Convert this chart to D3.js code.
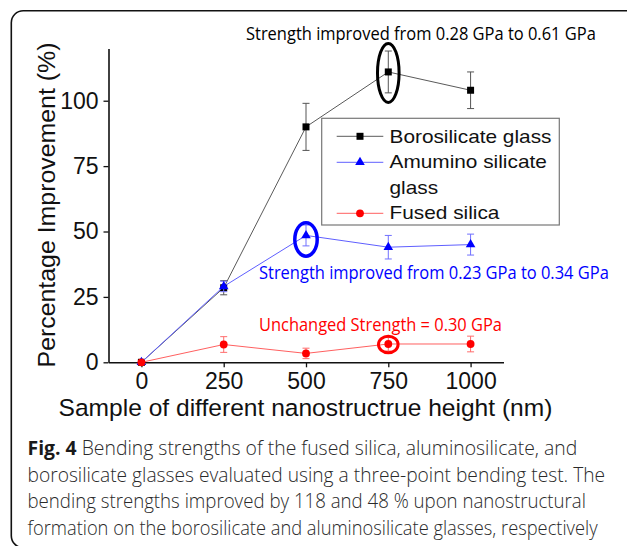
<!DOCTYPE html>
<html>
<head>
<meta charset="utf-8">
<script src="https://cdn.jsdelivr.net/npm/d3@7"></script>
<style>
  html, body { margin: 0; padding: 0; background: #fff; }
  svg { display: block; }
</style>
</head>
<body>
<svg id="chart" width="627" height="546"></svg>
<script>
// Nanostructure heights (nm) on the x axis
const heights = [0, 250, 500, 750, 1000];

// Percentage improvement of bending strength, with error bars
const boroValues  = [0, 28.5, 90, 111, 104];
const boroErrors  = [0, 2.7, 9, 8, 7];
const aluValues   = [0, 29, 48.5, 44, 45];
const aluErrors   = [0, 2, 4, 4.5, 4];
const fusedValues = [0, 6.8, 3.4, 7, 7];
const fusedErrors = [0, 3, 2, 2.7, 3];

const xTicks = [0, 250, 500, 750, 1000];
const yTicks = [0, 25, 50, 75, 100];

const legendLabels = [["Borosilicate glass"], ["Amumino silicate", "glass"], ["Fused silica"]];

const notes = [
  "Strength improved from 0.28 GPa to 0.61 GPa",
  "Strength improved from 0.23 GPa to 0.34 GPa",
  "Unchanged Strength = 0.30 GPa"
];

const captionLines = [
  ["Fig. 4", " Bending strengths of the fused silica, aluminosilicate, and"],
  ["", "borosilicate glasses evaluated using a three-point bending test. The"],
  ["", "bending strengths improved by 118 and 48 % upon nanostructural"],
  ["", "formation on the borosilicate and aluminosilicate glasses, respectively"]
];

const svg = d3.select("#chart");
const AXIS_FONT = "'Liberation Sans', Arial, sans-serif";
const NOTE_FONT = "'Open Sans', 'Noto Sans', sans-serif";

// Stretch or squeeze a text horizontally so its box spans a given width
function fitWidth(sel, target) {
  const node = sel.node();
  const bb = node.getBBox();
  const anchor = sel.attr("text-anchor") || "start";
  const ax = anchor === "middle" ? bb.x + bb.width / 2 : anchor === "end" ? bb.x + bb.width : bb.x;
  const k = target / bb.width;
  const prev = sel.attr("transform") || "";
  sel.attr("transform", `${prev} translate(${ax},0) scale(${k},1) translate(${-ax},0)`);
  return k;
}

// Rounded frame around figure and caption
svg.append("rect")
  .attr("x", 11.3).attr("y", 10.7)
  .attr("width", 720).attr("height", 537)
  .attr("rx", 12).attr("ry", 12)
  .attr("fill", "#fff").attr("stroke", "#111").attr("stroke-width", 1.6);

const x = d3.scaleLinear().domain([-100, 1100]).range([108.5, 503.5]);
const y = d3.scaleLinear().domain([0, 120]).range([362.3, 48.4]);

// Axes
const xAxis = svg.append("g")
  .attr("transform", `translate(0,${y(0)})`)
  .call(d3.axisBottom(x).tickValues(xTicks).tickFormat(d3.format("d"))
    .tickSize(5).tickSizeOuter(0).tickPadding(5.5));
const yAxis = svg.append("g")
  .attr("transform", `translate(${x(-100)},0)`)
  .call(d3.axisLeft(y).tickValues(yTicks).tickFormat(d3.format("d"))
    .tickSize(5).tickSizeOuter(0).tickPadding(5));

[xAxis, yAxis].forEach(g => {
  g.select(".domain").attr("stroke", "#111").attr("stroke-width", 1.6);
  g.selectAll(".tick line").attr("stroke", "#111").attr("stroke-width", 1.3);
  g.selectAll(".tick text")
    .attr("fill", "#111")
    .style("font-family", AXIS_FONT)
    .style("font-size", "23px");
});

// Axis titles
const yTitleG = svg.append("g").attr("transform", `translate(55,205) rotate(-90)`);
const yTitle = yTitleG.append("text")
  .attr("text-anchor", "middle")
  .attr("fill", "#111")
  .style("font-family", AXIS_FONT)
  .style("font-size", "24px")
  .text("Percentage Improvement (%)");
fitWidth(yTitle, 325);

const xTitle = svg.append("text")
  .attr("x", 305.5).attr("y", 416.5)
  .attr("text-anchor", "middle")
  .attr("fill", "#111")
  .style("font-family", AXIS_FONT)
  .style("font-size", "23.3px")
  .text("Sample of different nanostructrue height (nm)");
fitWidth(xTitle, 494);

// Series definitions
const series = [
  { values: boroValues, errors: boroErrors, line: "#5a5a5a", err: "#555", fill: "#000",
    symbol: d3.symbolSquare, size: 49 },
  { values: aluValues, errors: aluErrors, line: "#5f5fff", err: "#7070ff", fill: "#0000ff",
    symbol: d3.symbolTriangle, size: 40 },
  { values: fusedValues, errors: fusedErrors, line: "#ff6060", err: "#ff6c6c", fill: "#ff0000",
    symbol: d3.symbolCircle, size: 48 }
];

const lineGen = d3.line().x(d => x(d[0])).y(d => y(d[1]));

series.forEach(s => {
  const pts = heights.map((h, i) => [h, s.values[i], s.errors[i]]);
  const g = svg.append("g");
  g.append("path")
    .attr("d", lineGen(pts))
    .attr("fill", "none")
    .attr("stroke", s.line)
    .attr("stroke-width", 1);
  const eb = g.selectAll(".eb").data(pts.filter(p => p[2] > 0)).join("g");
  eb.append("line")
    .attr("x1", d => x(d[0])).attr("x2", d => x(d[0]))
    .attr("y1", d => y(d[1] - d[2])).attr("y2", d => y(d[1] + d[2]))
    .attr("stroke", s.err).attr("stroke-width", 1);
  [-1, 1].forEach(sgn => {
    eb.append("line")
      .attr("x1", d => x(d[0]) - 3.5).attr("x2", d => x(d[0]) + 3.5)
      .attr("y1", d => y(d[1] + sgn * d[2])).attr("y2", d => y(d[1] + sgn * d[2]))
      .attr("stroke", s.err).attr("stroke-width", 1);
  });
  g.selectAll(".mk").data(pts).join("path")
    .attr("transform", d => `translate(${x(d[0])},${y(d[1])})`)
    .attr("d", d3.symbol().type(s.symbol).size(s.size)())
    .attr("fill", s.fill);
});

// Highlight rings around the selected samples
svg.append("ellipse")
  .attr("cx", x(750)).attr("cy", y(boroValues[3]) + 1)
  .attr("rx", 10.8).attr("ry", 29.5)
  .attr("fill", "none").attr("stroke", "#000").attr("stroke-width", 3);
svg.append("ellipse")
  .attr("cx", x(500)).attr("cy", y(aluValues[2]) + 4)
  .attr("rx", 11.2).attr("ry", 16.7)
  .attr("fill", "none").attr("stroke", "#0000ff").attr("stroke-width", 3.5);
svg.append("ellipse")
  .attr("cx", x(750)).attr("cy", y(fusedValues[3]) + 0.5)
  .attr("rx", 9.8).attr("ry", 8.2)
  .attr("fill", "none").attr("stroke", "#ff0000").attr("stroke-width", 3);

// Annotations
const noteSpecs = [
  { text: notes[0], x: 246, y: 40, color: "#000", w: 350 },
  { text: notes[1], x: 259, y: 279, color: "#0000ff", w: 350 },
  { text: notes[2], x: 259, y: 330.7, color: "#ff0000", w: 243 }
];
noteSpecs.forEach(n => {
  const t = svg.append("text")
    .attr("x", n.x).attr("y", n.y)
    .attr("fill", n.color)
    .style("font-family", NOTE_FONT)
    .style("font-size", "17.5px")
    .text(n.text);
  fitWidth(t, n.w);
});

// Legend
const lg = svg.append("g");
lg.append("rect")
  .attr("x", 321.7).attr("y", 118.3)
  .attr("width", 237.6).attr("height", 106.7)
  .attr("fill", "#fff").attr("stroke", "#777").attr("stroke-width", 1.2);
const legendRows = [136.3, 162.3, 213.3];
const legendBaselines = [[143.3], [168.4, 193.6], [219.5]];
let legendK = null;
series.forEach((s, i) => {
  const ry = legendRows[i];
  lg.append("line")
    .attr("x1", 336.7).attr("x2", 383.3)
    .attr("y1", ry).attr("y2", ry)
    .attr("stroke", s.line).attr("stroke-width", 1);
  lg.append("path")
    .attr("transform", `translate(360,${ry})`)
    .attr("d", d3.symbol().type(s.symbol).size(s.size)())
    .attr("fill", s.fill);
  legendLabels[i].forEach((lab, j) => {
    const t = lg.append("text")
      .attr("x", 389.5).attr("y", legendBaselines[i][j])
      .attr("fill", "#111")
      .style("font-family", AXIS_FONT)
      .style("font-size", "18.6px")
      .text(lab);
    if (legendK === null) {
      legendK = fitWidth(t, 162);
    } else {
      const ax = 389.5;
      t.attr("transform", `translate(${ax},0) scale(${legendK},1) translate(${-ax},0)`);
    }
  });
});

// Caption
const captionBaselines = [455.5, 482, 508.5, 535];
const captionWidths = [550, 578, 559, 571];
captionLines.forEach((parts, i) => {
  const t = svg.append("text")
    .attr("x", 27.5).attr("y", captionBaselines[i])
    .style("font-family", NOTE_FONT)
    .style("font-size", "20px");
  if (parts[0]) {
    t.append("tspan").attr("font-weight", 700).attr("fill", "#1a1a1a").text(parts[0]);
  }
  t.append("tspan").attr("font-weight", 300).attr("fill", "#2a2a2a").text(parts[1]);
  fitWidth(t, captionWidths[i]);
});
</script>
</body>
</html>
